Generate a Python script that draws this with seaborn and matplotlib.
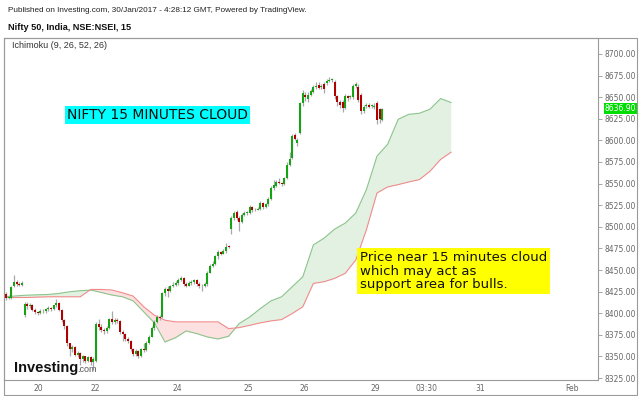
import matplotlib
matplotlib.use("Agg")
import matplotlib.pyplot as plt
from matplotlib.patches import Rectangle
import seaborn as sns

# 15 minute candles (bar index = position)
opens = [
    8422, 8418, 8418, 8431, 8436, 8434, 8433, 8398, 8411, 8408,
    8410, 8404, 8401, 8400, 8403, 8402, 8405, 8406, 8405, 8409,
    8412, 8404, 8392, 8385, 8365, 8358, 8361, 8352, 8354, 8347,
    8350, 8345, 8349, 8343, 8345, 8388, 8384, 8381, 8379, 8383,
    8393, 8390, 8392, 8391, 8378, 8376, 8370, 8368, 8358, 8353,
    8356, 8350, 8358, 8357, 8366, 8373, 8383, 8390, 8396, 8396,
    8423, 8428, 8426, 8431, 8433, 8435, 8439, 8441, 8434, 8432,
    8435, 8436, 8439, 8434, 8431, 8432, 8434, 8447, 8455, 8457,
    8466, 8471, 8469, 8472, 8478, 8497, 8510, 8517, 8510, 8506,
    8514, 8516, 8516, 8523, 8519, 8520, 8521, 8528, 8523, 8526,
    8532, 8545, 8547, 8552, 8551, 8550, 8557, 8572, 8580, 8606,
    8597, 8609, 8643, 8652, 8648, 8653, 8656, 8662, 8664, 8662,
    8665, 8666, 8669, 8670, 8667, 8651, 8645, 8645, 8638, 8651,
    8650, 8650, 8663, 8662, 8653, 8634, 8640, 8641, 8640, 8639,
    8643, 8636, 8624,
]
closes = [
    8418, 8419, 8430, 8436, 8434, 8433, 8435, 8411, 8408, 8410,
    8404, 8401, 8400, 8403, 8402, 8405, 8406, 8405, 8409, 8412,
    8404, 8392, 8385, 8365, 8358, 8361, 8352, 8354, 8347, 8350,
    8345, 8349, 8343, 8347, 8388, 8384, 8381, 8379, 8383, 8393,
    8390, 8392, 8391, 8378, 8376, 8370, 8368, 8358, 8353, 8356,
    8350, 8358, 8357, 8366, 8373, 8383, 8390, 8396, 8394, 8423,
    8428, 8426, 8431, 8433, 8435, 8439, 8441, 8434, 8432, 8435,
    8436, 8439, 8434, 8431, 8432, 8434, 8447, 8455, 8457, 8466,
    8471, 8469, 8472, 8477, 8477, 8510, 8516, 8510, 8506, 8514,
    8516, 8516, 8523, 8519, 8520, 8521, 8528, 8523, 8526, 8532,
    8545, 8548, 8552, 8551, 8549, 8556, 8572, 8579, 8605, 8602,
    8601, 8643, 8655, 8650, 8653, 8657, 8662, 8663, 8661, 8663,
    8660, 8669, 8670, 8670, 8651, 8645, 8641, 8637, 8651, 8649,
    8651, 8663, 8665, 8647, 8634, 8639, 8640, 8639, 8640, 8639,
    8624, 8625, 8636.9,
]
highs = [
    8424, 8421, 8431, 8444, 8439, 8436, 8437, 8413, 8413, 8412,
    8411, 8406, 8403, 8405, 8405, 8406, 8408, 8407, 8410, 8416,
    8413, 8405, 8393, 8386, 8366, 8363, 8362, 8356, 8355, 8352,
    8351, 8350, 8350, 8349, 8390, 8393, 8387, 8383, 8385, 8395,
    8403, 8395, 8394, 8392, 8380, 8377, 8372, 8369, 8360, 8358,
    8357, 8360, 8365, 8368, 8375, 8385, 8392, 8398, 8398, 8425,
    8430, 8431, 8433, 8436, 8437, 8441, 8443, 8442, 8436, 8437,
    8438, 8440, 8440, 8436, 8434, 8436, 8449, 8457, 8460, 8467,
    8473, 8472, 8474, 8481, 8479, 8512, 8518, 8519, 8512, 8516,
    8518, 8518, 8525, 8524, 8522, 8523, 8530, 8529, 8527, 8534,
    8547, 8554, 8554, 8556, 8552, 8558, 8575, 8586, 8607, 8608,
    8603, 8645, 8658, 8656, 8656, 8660, 8664, 8667, 8667, 8665,
    8668, 8671, 8673, 8672, 8670, 8653, 8647, 8647, 8654, 8653,
    8653, 8665, 8668, 8665, 8655, 8641, 8643, 8643, 8642, 8643,
    8646, 8638, 8638,
]
lows = [
    8415, 8416, 8416, 8430, 8432, 8431, 8431, 8396, 8405, 8406,
    8402, 8399, 8398, 8399, 8400, 8400, 8403, 8403, 8404, 8407,
    8402, 8390, 8382, 8362, 8350, 8355, 8350, 8349, 8340, 8344,
    8342, 8343, 8340, 8334, 8343, 8380, 8378, 8376, 8377, 8382,
    8388, 8388, 8389, 8376, 8368, 8368, 8365, 8356, 8351, 8351,
    8348, 8349, 8355, 8356, 8364, 8372, 8381, 8389, 8392, 8394,
    8420, 8419, 8424, 8430, 8431, 8433, 8437, 8432, 8430, 8431,
    8433, 8434, 8432, 8429, 8426, 8430, 8432, 8446, 8453, 8456,
    8463, 8467, 8468, 8470, 8475, 8492, 8508, 8508, 8495, 8504,
    8513, 8514, 8515, 8517, 8518, 8519, 8520, 8521, 8522, 8524,
    8531, 8543, 8546, 8549, 8547, 8548, 8555, 8570, 8578, 8600,
    8594, 8607, 8640, 8646, 8645, 8651, 8655, 8660, 8659, 8660,
    8655, 8664, 8667, 8668, 8648, 8640, 8637, 8633, 8636, 8646,
    8648, 8648, 8661, 8644, 8630, 8632, 8637, 8637, 8638, 8636,
    8619, 8620, 8622,
]

# Ichimoku cloud (leading spans), read every 4 bars
span_idx = [0, 4, 8, 12, 16, 20, 24, 28, 32, 36, 40, 44, 48, 52, 56, 60, 64, 68, 72, 76,
            80, 84, 88, 92, 96, 100, 104, 108, 112, 116, 120, 124, 128, 132, 136, 140,
            144, 148, 152, 156, 160, 164, 168]
span_a = [8419.0, 8420.1, 8420.9, 8421.3, 8421.7, 8422.9, 8424.8, 8426.0, 8426.8, 8424.0,
          8421.0, 8419.0, 8414.3, 8401.5, 8388.8, 8366.7, 8371.7, 8379.5, 8376.4, 8372.5,
          8370.2, 8373.3, 8388.0, 8395.7, 8405.4, 8414.3, 8419.0, 8430.6, 8442.2, 8479.1,
          8486.8, 8497.3, 8504.3, 8515.9, 8543.0, 8581.8, 8595.4, 8624.4, 8630.2, 8631.4,
          8636.1, 8648.4, 8643.8]
span_b = [8418.2, 8418.2, 8418.2, 8418.6, 8419.0, 8419.0, 8419.0, 8419.0, 8427.5, 8427.5,
          8426.8, 8423.6, 8419.8, 8407.4, 8397.7, 8391.9, 8390.0, 8390.0, 8390.0, 8390.0,
          8390.0, 8382.2, 8383.3, 8386.0, 8388.8, 8391.1, 8392.6, 8399.6, 8407.4, 8434.5,
          8436.4, 8440.3, 8446.1, 8461.6, 8496.5, 8539.1, 8546.1, 8548.8, 8551.9, 8554.6,
          8564.3, 8577.9, 8586.4]

x_tick_pos = [12.1, 33.6, 64.5, 91.3, 112.5, 139.2, 158.5, 178.9, 213.6]
x_tick_labels = ["20", "22", "24", "25", "26", "29", "03:30", "31", "Feb"]
y_ticks = [8325, 8350, 8375, 8400, 8425, 8450, 8475, 8500, 8525, 8550,
           8575, 8600, 8625, 8650, 8675, 8700]
last_price = 8636.90

sns.set_style("white")
plt.rcParams["font.family"] = ["DejaVu Sans"]

W, H = 640, 396
fig = plt.figure(figsize=(6.4, 3.96), dpi=100)
ax = fig.add_axes([4 / W, (H - 380) / H, (598 - 4) / W, (380 - 38) / H])

# cloud
ax.fill_between(span_idx, span_a, span_b, where=[a >= b for a, b in zip(span_a, span_b)],
                interpolate=True, color="#e3f1e3", lw=0)
ax.fill_between(span_idx, span_a, span_b, where=[a < b for a, b in zip(span_a, span_b)],
                interpolate=True, color="#fde0e0", lw=0)
sns.lineplot(x=span_idx, y=span_a, ax=ax, color="#8cc48c", lw=0.8)
sns.lineplot(x=span_idx, y=span_b, ax=ax, color="#f08a8a", lw=0.8)

# candles
idx = list(range(len(closes)))
ax.vlines(idx, lows, highs, color="#a8a8a8", lw=0.9, zorder=3)
body_bottom = [min(o, c) for o, c in zip(opens, closes)]
body_height = [max(abs(c - o), 0.9) for o, c in zip(opens, closes)]
body_color = ["#13a313" if c >= o else "#b00000" for o, c in zip(opens, closes)]
ax.bar(idx, body_height, bottom=body_bottom, width=0.75, color=body_color, lw=0, zorder=4)

ax.set_xlim(-0.75, 223.4)
ax.set_ylim(8322.7, 8718.5)
ax.yaxis.tick_right()
ax.set_yticks(y_ticks)
ax.set_yticklabels([f"{v:.2f}" for v in y_ticks])
ax.set_xticks(x_tick_pos)
ax.set_xticklabels(x_tick_labels)
ax.tick_params(axis="both", labelsize=5.5, labelcolor="#666666", color="#999999",
               length=3, width=0.6, pad=2)
ax.tick_params(axis="x", length=0, pad=3)
for s in ax.spines.values():
    s.set_color("#9a9a9a")
    s.set_linewidth(0.8)

# last price marker
ax.annotate(f"{last_price:.2f}", xy=(1, last_price), xycoords=("axes fraction", "data"),
            xytext=(5, 0), textcoords="offset points", va="center", ha="left",
            fontsize=5.5, color="white",
            bbox=dict(boxstyle="square,pad=0.15", fc="#00dd00", ec="none"))

# outer frame
fig.patches.append(Rectangle((4 / W, 1 - 395 / H), 633 / W, 357 / H, transform=fig.transFigure,
                             fill=False, ec="#9a9a9a", lw=0.8))

fig.text(8 / W, 1 - 10 / H, "Published on Investing.com, 30/Jan/2017 - 4:28:12 GMT, Powered by TradingView.",
         fontsize=5.9, family="Liberation Sans", color="#222222", va="center")
fig.text(8 / W, 1 - 27 / H, "Nifty 50, India, NSE:NSEI, 15", fontsize=6.6, family="Liberation Sans",
         weight="bold", color="#111111", va="center")
fig.text(12 / W, 1 - 46 / H, "Ichimoku (9, 26, 52, 26)", fontsize=6.5, family="Liberation Sans",
         color="#333333", va="center")

fig.text(67 / W, 1 - 115 / H, "NIFTY 15 MINUTES CLOUD", fontsize=10, color="#111111", va="center",
         bbox=dict(boxstyle="square,pad=0.15", fc="#00ffff", ec="none"))
fig.text(360 / W, 1 - 271 / H, "Price near 15 minutes cloud\nwhich may act as\nsupport area for bulls.",
         fontsize=9.5, color="#111111", va="center", linespacing=1.05,
         bbox=dict(boxstyle="square,pad=0.2", fc="#ffff00", ec="none"))

fig.text(14 / W, 1 - 368 / H, "Investing", fontsize=10.5, family="Liberation Sans", weight="bold",
         color="#111111", va="center")
fig.text(77 / W, 1 - 370 / H, ".com", fontsize=6.5, family="Liberation Sans", color="#555555",
         va="center")

fig.savefig("out.png", dpi=100)
